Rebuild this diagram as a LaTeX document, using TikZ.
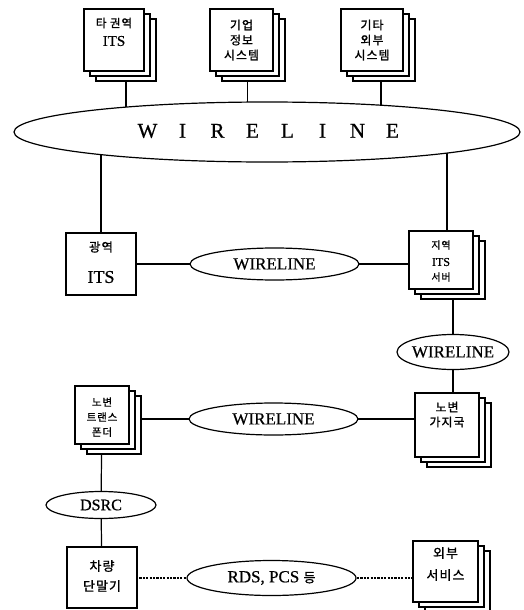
\documentclass[tikz,border=0pt]{standalone}
\usepackage{fontspec}
\setmainfont{Liberation Serif}[FakeBold=0.6]
\newfontfamily\kr{Noto Sans CJK KR}[FakeBold=1.0,LetterSpace=8]
\usetikzlibrary{shapes.geometric,calc}
\pgfdeclarelayer{bg}
\pgfsetlayers{bg,main}
\tikzset{
  boxs/.style={draw, line width=1.4pt, fill=white, rectangle, inner sep=0pt},
  ell/.style={draw, line width=1.2pt, fill=white, ellipse, inner sep=0pt},
  conn/.style={line width=1.2pt},
  dotconn/.style={line width=1.2pt, dash pattern=on 2.2pt off 1.2pt},
  kt/.style={inner sep=0pt, font=\kr\fontsize{#1}{#1}\selectfont},
  lt/.style={inner sep=0pt, font=\fontsize{#1}{#1}\selectfont},
}
% name, cx, cy, w, h
\newcommand{\stk}[5]{%
  \node[boxs, minimum width=#4pt, minimum height=#5pt] (#1-2) at (#2+12,#3+10) {};
  \node[boxs, minimum width=#4pt, minimum height=#5pt] (#1-1) at (#2+6,#3+5) {};
  \node[boxs, minimum width=#4pt, minimum height=#5pt] (#1) at (#2,#3) {};
}
\begin{document}
\begin{tikzpicture}[x=1pt,y=-1pt]
\useasboundingbox (0,0) rectangle (523,610);
% top boxes
\stk{t1}{114}{40}{60}{62}
\node[kt=11.5] (t1a) at (114,23) {타 권역};
\node[lt=15] (t1b) at (114,41) {ITS};
\stk{t2}{241.5}{40}{63}{62}
\node[kt=12] (t2a) at (241.5,25) {기업};
\node[kt=12] (t2b) at (241.5,40) {정보};
\node[kt=12] (t2c) at (241.5,55) {시스템};
\stk{t3}{372}{40}{62}{62}
\node[kt=12] (t3a) at (372,25) {기타};
\node[kt=12] (t3b) at (372,40) {외부};
\node[kt=12] (t3c) at (372,55) {시스템};
% big wireline
\node[ell, minimum width=506pt, minimum height=60pt] (W) at (267,132) {};
\node[lt=21] (Wt) at (270,131) {\makebox[35pt]{W}\makebox[35pt]{I}\makebox[35pt]{R}\makebox[35pt]{E}\makebox[35pt]{L}\makebox[35pt]{I}\makebox[35pt]{N}\makebox[35pt]{E}};
% middle row
\node[boxs, minimum width=70pt, minimum height=62pt] (gy) at (101,264) {};
\node[kt=12.5] (gya) at (101,247) {광역};
\node[lt=18] (gyb) at (101,277) {ITS};
\node[ell, minimum width=169pt, minimum height=32pt] (M1) at (274.5,264) {};
\node[lt=17] (M1t) at (274.5,264) {WIRELINE};
\stk{jy}{441}{260}{64}{58}
\node[kt=10] (jya) at (441,245) {지역};
\node[lt=12] (jyb) at (441,262) {ITS};
\node[kt=10] (jyc) at (441,277) {서버};
\node[ell, minimum width=112pt, minimum height=35pt] (M2) at (453,352) {};
\node[lt=17] (M2t) at (453,352) {WIRELINE};
% lower row
\stk{ntp}{102}{415}{54}{58}
\node[kt=10.5] (ntpa) at (102,402) {노변};
\node[kt=10.5] (ntpb) at (102,417) {트랜스};
\node[kt=10.5] (ntpc) at (102,432) {폰더};
\node[ell, minimum width=169pt, minimum height=32pt] (M3) at (273.5,419) {};
\node[lt=17] (M3t) at (273.5,419) {WIRELINE};
\stk{gj}{447}{425}{64}{64}
\node[kt=12] (gja) at (447,407) {노변};
\node[kt=12] (gjb) at (447,422) {가지국};
\node[ell, minimum width=110pt, minimum height=27pt] (D) at (101,505) {};
\node[lt=16] (Dt) at (101,505) {DSRC};
\node[boxs, minimum width=70pt, minimum height=61pt] (car) at (102,577.5) {};
\node[kt=13] (cara) at (102,566) {차량};
\node[kt=13] (carb) at (102,586) {단말기};
\node[ell, minimum width=169pt, minimum height=35pt] (R) at (271.5,578) {};
\node[lt=17] (Rt) at (271.5,578) {RDS, PCS {\kr\fontsize{13}{13}\selectfont 등}};
\stk{ext}{445.5}{571.5}{65}{61}
\node[kt=13] (exta) at (445.5,553) {외부};
\node[kt=13] (extb) at (445.5,575) {서비스};
% connectors
\begin{pgfonlayer}{bg}
\draw[conn] (t1-2.south) -- (t1-2.south |- W.center);
\draw[conn] (t2-1.south) -- (t2-1.south |- W.center);
\draw[conn] ($(t3-2.south)+(-3,0)$) -- ($(t3-2.south |- W.center)+(-3,0)$);
\draw[conn] (gy.north) -- (gy.north |- W.center);
\draw[conn] (jy-1.north) -- (jy-1.north |- W.center);
\draw[conn] (gy.center) -- (M1.center) -- (M1.center -| jy.center);
\draw[conn] (jy-2.center) -- (jy-2.center |- M2.center);
\draw[conn] (gj-1.center |- M2.center) -- (gj-1.center);
\draw[conn] (ntp-2.center |- M3.center) -- (M3.center) -- (M3.center -| gj.center);
\draw[conn] (ntp.center) -- (D.center) -- (car.center);
\draw[dotconn] (car.center |- R.center) -- (R.center) -- (R.center -| ext.center);
\end{pgfonlayer}
\end{tikzpicture}
\end{document}
